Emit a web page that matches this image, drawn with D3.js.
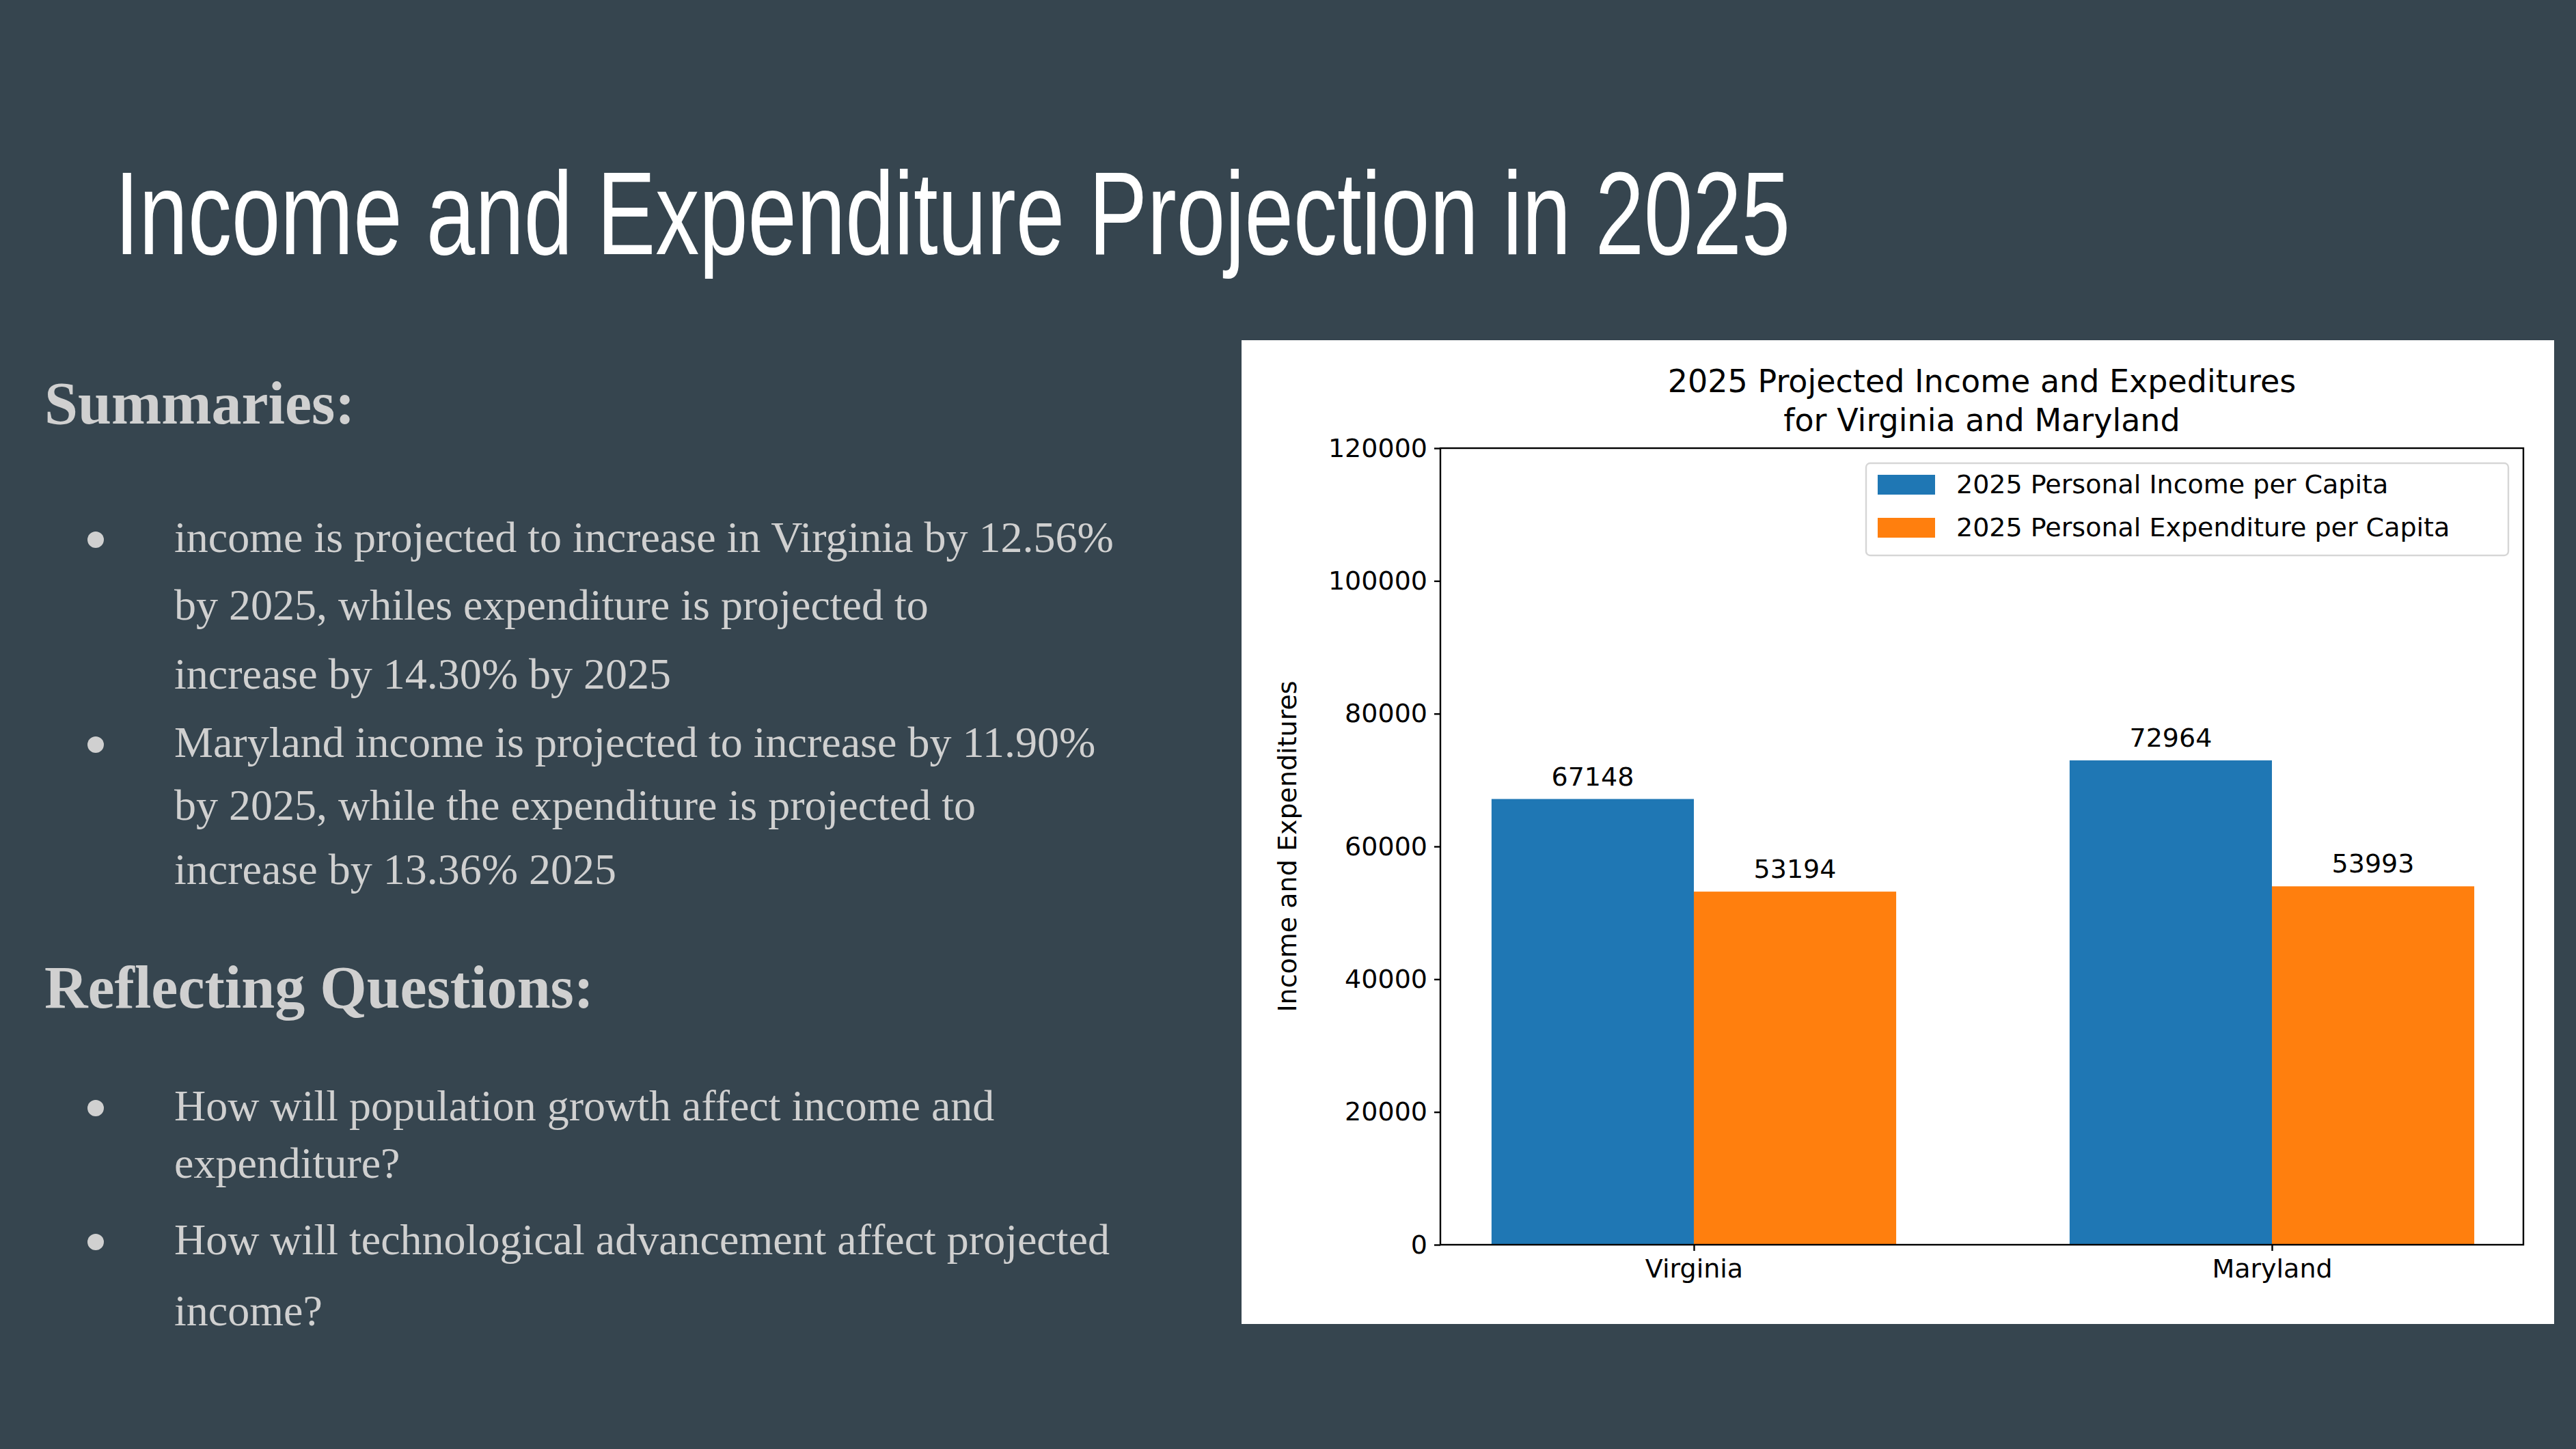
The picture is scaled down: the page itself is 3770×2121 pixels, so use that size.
<!DOCTYPE html>
<html>
<head>
<meta charset="utf-8">
<script src="https://cdn.jsdelivr.net/npm/d3@7"></script>
<style>
  html, body { margin: 0; padding: 0; background: #36454f; }
</style>
</head>
<body>
<div id="slide"></div>
<script>
// chart data
const states = ["Virginia", "Maryland"];
const seriesNames = ["2025 Personal Income per Capita", "2025 Personal Expenditure per Capita"];
const incomeValues = [67148, 72964];
const expenditureValues = [53194, 53993];
const yTicks = [0, 20000, 40000, 60000, 80000, 100000, 120000];
const colors = ["#1f77b4", "#ff7f0e"];

// slide text
const summaryLines = [
  ["income is projected to increase in Virginia by 12.56%", "by 2025, whiles expenditure is projected to", "increase by 14.30% by 2025"],
  ["Maryland income is projected to increase by 11.90%", "by 2025, while the expenditure is projected to", "increase by 13.36% 2025"]
];
const questionLines = [
  ["How will population growth affect income and", "expenditure?"],
  ["How will technological advancement affect projected", "income?"]
];

const W = 3770, H = 2121;
const svg = d3.select("#slide").append("svg").attr("width", W).attr("height", H);
svg.append("rect").attr("width", W).attr("height", H).attr("fill", "#36454f");

// slide title
svg.append("text")
  .attr("x", 168).attr("y", 372)
  .attr("textLength", 2452).attr("lengthAdjust", "spacingAndGlyphs")
  .attr("font-family", "'Liberation Sans Narrow', 'Liberation Sans', sans-serif")
  .attr("font-size", 172).attr("fill", "#ffffff")
  .text("Income and Expenditure Projection in 2025");

// left column text
const serif = "'Liberation Serif', 'DejaVu Serif', serif";
const textColor = "#d0d0d0";
function heading(label, y) {
  svg.append("text").attr("x", 65).attr("y", y)
    .attr("font-family", serif).attr("font-weight", "bold")
    .attr("font-size", 88).attr("fill", textColor).text(label);
}
function bullets(groups, ys) {
  groups.forEach((lines, i) => {
    svg.append("circle").attr("cx", 140).attr("cy", ys[i][0] - 18).attr("r", 12).attr("fill", textColor);
    lines.forEach((line, j) => {
      svg.append("text").attr("x", 255).attr("y", ys[i][j])
        .attr("font-family", serif).attr("font-size", 64)
        .attr("fill", textColor).text(line);
    });
  });
}
heading("Summaries:", 620);
bullets(summaryLines, [[808, 907, 1008], [1108, 1200, 1294]]);
heading("Reflecting Questions:", 1475);
bullets(questionLines, [[1640, 1724], [1836, 1940]]);

// chart panel
svg.append("rect").attr("x", 1817).attr("y", 498).attr("width", 1921).attr("height", 1440).attr("fill", "#ffffff");

const sans = "'DejaVu Sans', sans-serif";
const plotL = 2108, plotR = 3693, plotT = 656, plotB = 1822;
const barW = 0.35;
const x = d3.scaleLinear().domain([-0.4385, 1.435]).range([plotL, plotR]);
const y = d3.scaleLinear().domain([0, 120000]).range([plotB, plotT]);

const chart = svg.append("g");
const series = [incomeValues, expenditureValues];
series.forEach((vals, s) => {
  vals.forEach((v, i) => {
    const x0 = s === 0 ? i - barW : i;
    chart.append("rect")
      .attr("x", x(x0)).attr("y", y(v))
      .attr("width", x(x0 + barW) - x(x0)).attr("height", y(0) - y(v))
      .attr("fill", colors[s]);
    chart.append("text")
      .attr("x", x(x0 + barW / 2)).attr("y", y(v) - 20)
      .attr("text-anchor", "middle").attr("font-family", sans).attr("font-size", 38)
      .attr("fill", "#000").text(v);
  });
});

// axes
const yAxis = chart.append("g").attr("transform", `translate(${plotL},0)`)
  .call(d3.axisLeft(y).tickValues(yTicks).tickSize(9).tickPadding(10).tickFormat(d3.format("d")));
const xAxis = chart.append("g").attr("transform", `translate(0,${plotB})`)
  .call(d3.axisBottom(x).tickValues([0, 1]).tickSize(9).tickPadding(12).tickFormat(i => states[i]));
[yAxis, xAxis].forEach(a => {
  a.selectAll("text").attr("font-family", sans).attr("font-size", 38).attr("fill", "#000");
  a.selectAll("line").attr("stroke", "#000").attr("stroke-width", 2.4);
  a.select(".domain").remove();
});
chart.append("rect").attr("x", plotL).attr("y", plotT).attr("width", plotR - plotL).attr("height", plotB - plotT)
  .attr("fill", "none").attr("stroke", "#000").attr("stroke-width", 2.4);

// titles
chart.append("text").attr("x", (plotL + plotR) / 2).attr("y", 574)
  .attr("text-anchor", "middle").attr("font-family", sans).attr("font-size", 46)
  .text("2025 Projected Income and Expeditures");
chart.append("text").attr("x", (plotL + plotR) / 2).attr("y", 631)
  .attr("text-anchor", "middle").attr("font-family", sans).attr("font-size", 46)
  .text("for Virginia and Maryland");
chart.append("text")
  .attr("transform", `translate(1897,${(plotT + plotB) / 2}) rotate(-90)`)
  .attr("text-anchor", "middle").attr("font-family", sans).attr("font-size", 38)
  .text("Income and Expenditures");

// legend
const legend = chart.append("g");
legend.append("rect").attr("x", 2731).attr("y", 678).attr("width", 940).attr("height", 135).attr("rx", 6)
  .attr("fill", "#fff").attr("stroke", "#d6d6d6").attr("stroke-width", 2.4);
seriesNames.forEach((name, i) => {
  const cy = 709 + i * 63;
  legend.append("rect").attr("x", 2748).attr("y", cy - 14).attr("width", 84).attr("height", 29).attr("fill", colors[i]);
  legend.append("text").attr("x", 2863).attr("y", cy + 13)
    .attr("font-family", sans).attr("font-size", 38).text(name);
});
</script>
</body>
</html>
